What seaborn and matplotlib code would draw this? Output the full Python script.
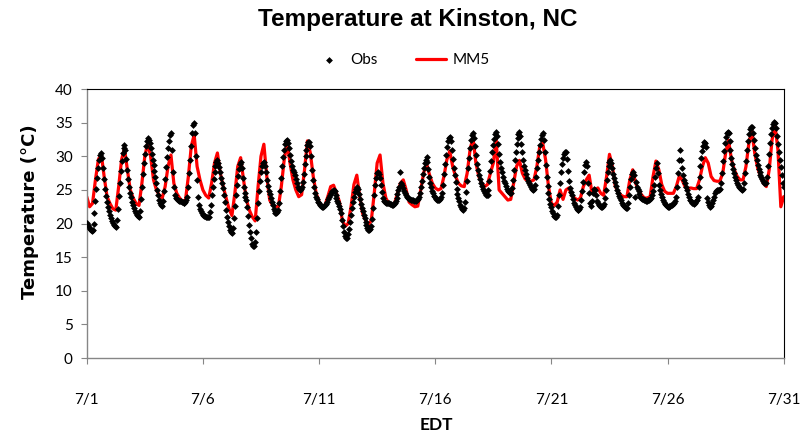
import numpy as np
import pandas as pd
import matplotlib
matplotlib.use('Agg')
import matplotlib.pyplot as plt
import seaborn as sns

# Hourly observed temperature (deg C), one row per day, 7/1 00 EDT onwards
obs_temp = [
    20.1, 19.8, 19.5, 19.2, 19.0, 18.9, 19.0, 19.9, 21.5, 23.4, 25.2, 26.8, 28.2, 29.4, 30.2, 30.5, 29.7, 28.3, 26.7, 25.2, 24.1, 23.2, 22.5, 21.8,
    21.3, 20.8, 20.4, 20.1, 19.8, 19.6, 19.5, 20.5, 22.2, 24.1, 26.1, 27.8, 29.3, 30.5, 31.3, 31.7, 31.0, 29.6, 28.0, 26.6, 25.5, 24.6, 23.9, 23.2,
    22.7, 22.3, 21.9, 21.5, 21.3, 21.1, 21.0, 21.9, 23.6, 25.4, 27.3, 29.0, 30.4, 31.5, 32.3, 32.7, 32.4, 32.0, 31.2, 30.3, 29.5, 28.7, 27.8, 27.0,
    26.0, 25.0, 24.2, 23.5, 23.0, 22.7, 22.6, 23.4, 24.9, 26.6, 28.4, 29.9, 31.2, 32.3, 33.1, 33.4, 31.0, 27.6, 25.5, 24.3, 23.8, 23.6, 23.5, 23.4,
    23.4, 23.3, 23.2, 23.2, 23.1, 23.1, 23.2, 23.5, 24.0, 25.5, 27.5, 29.5, 31.5, 33.5, 34.7, 35.0, 33.5, 30.0, 26.5, 24.0, 22.8, 22.2, 21.8, 21.5,
    21.3, 21.2, 21.1, 21.0, 21.0, 21.0, 21.0, 21.7, 22.8, 24.2, 25.5, 26.7, 27.7, 28.6, 29.1, 29.4, 29.0, 28.4, 27.6, 26.8, 26.0, 25.3, 24.3, 23.2,
    22.0, 21.0, 20.3, 19.6, 19.1, 18.7, 18.6, 19.4, 20.9, 22.6, 24.3, 25.8, 27.1, 28.1, 28.9, 29.2, 28.2, 26.8, 25.5, 24.6, 24.0, 23.5, 22.4, 21.2,
    19.8, 18.8, 17.8, 17.0, 16.6, 16.7, 17.3, 18.8, 20.8, 23.0, 24.9, 26.4, 27.6, 28.5, 29.0, 29.2, 28.6, 27.6, 26.5, 25.6, 24.9, 24.4, 23.8, 23.2,
    22.7, 22.2, 21.8, 21.5, 21.5, 21.7, 22.0, 23.0, 24.8, 26.8, 28.5, 29.9, 31.0, 31.8, 32.3, 32.4, 32.0, 31.2, 30.2, 29.3, 28.6, 28.0, 27.6, 27.2,
    26.6, 26.0, 25.5, 25.1, 25.0, 25.1, 25.4, 26.2, 27.4, 28.8, 30.0, 31.0, 31.7, 32.2, 32.1, 31.6, 30.0, 28.0, 26.5, 25.5, 24.6, 24.0, 23.6, 23.2,
    23.0, 22.8, 22.6, 22.5, 22.5, 22.6, 22.7, 22.9, 23.2, 23.6, 24.0, 24.3, 24.6, 24.8, 24.9, 25.0, 24.8, 24.3, 23.8, 23.4, 23.0, 22.6, 22.2, 21.5,
    20.6, 19.6, 18.8, 18.2, 17.8, 17.9, 18.4, 19.2, 20.2, 21.3, 22.3, 23.2, 24.0, 24.7, 25.2, 25.5, 25.1, 24.4, 23.6, 22.9, 22.3, 21.8, 21.3, 20.8,
    20.3, 19.8, 19.4, 19.1, 19.0, 19.2, 19.7, 20.7, 22.3, 24.2, 25.7, 26.8, 27.5, 27.7, 27.4, 26.8, 25.8, 24.7, 23.8, 23.4, 23.2, 23.1, 23.0, 23.0,
    23.0, 22.9, 22.9, 22.8, 22.8, 22.9, 23.0, 23.3, 23.8, 24.4, 25.0, 25.5, 27.7, 26.0, 25.8, 25.3, 24.9, 24.6, 24.3, 24.0, 23.8, 23.7, 23.6, 23.5,
    23.5, 23.5, 23.4, 23.4, 23.4, 23.5, 23.6, 23.9, 24.5, 25.4, 26.4, 27.4, 28.3, 29.0, 29.5, 29.9, 29.2, 28.1, 27.0, 26.1, 25.4, 24.9, 24.5, 24.1,
    23.9, 23.7, 23.5, 23.5, 23.5, 23.6, 23.9, 24.6, 25.8, 27.3, 28.8, 30.2, 31.4, 32.3, 32.8, 32.9, 32.3, 31.0, 29.6, 28.3, 27.2, 26.2, 25.2, 24.4,
    23.8, 23.3, 22.8, 22.4, 22.1, 22.0, 22.3, 23.2, 24.7, 26.4, 28.2, 29.8, 31.2, 32.4, 33.1, 33.4, 32.8, 31.6, 30.2, 28.9, 28.0, 27.2, 26.6, 26.0,
    25.6, 25.2, 24.8, 24.5, 24.3, 24.2, 24.3, 25.0, 26.3, 27.8, 29.3, 30.6, 31.7, 32.6, 33.3, 33.6, 33.0, 31.8, 30.4, 29.2, 28.3, 27.6, 27.0, 26.4,
    26.0, 25.6, 25.2, 24.9, 24.7, 24.5, 24.6, 25.3, 26.5, 27.9, 29.4, 30.7, 31.8, 32.7, 33.3, 33.6, 33.0, 31.9, 30.6, 29.5, 28.6, 27.9, 27.3, 26.8,
    26.4, 26.0, 25.7, 25.4, 25.2, 25.0, 25.1, 25.8, 26.9, 28.2, 29.5, 30.7, 31.7, 32.6, 33.2, 33.4, 32.4, 30.6, 28.7, 27.0, 25.6, 24.5, 23.6, 22.9,
    22.4, 21.9, 21.5, 21.2, 21.0, 21.0, 21.3, 22.6, 24.3, 26.1, 27.6, 28.8, 29.7, 30.3, 30.6, 30.7, 29.6, 27.8, 26.3, 25.3, 24.7, 24.2, 23.6, 23.1,
    22.7, 22.4, 22.1, 22.0, 22.0, 22.1, 22.5, 23.5, 24.8, 26.2, 27.6, 28.7, 29.2, 28.5, 26.0, 24.5, 23.0, 22.6, 23.4, 24.5, 25.2, 25.0, 24.2, 23.4,
    23.0, 22.8, 22.6, 22.5, 22.5, 22.6, 22.9, 23.8, 25.0, 26.5, 27.7, 28.6, 29.2, 29.4, 29.0, 28.2, 27.4, 26.8, 26.2, 25.6, 25.0, 24.5, 24.1, 23.8,
    23.5, 23.1, 22.8, 22.6, 22.4, 22.3, 22.3, 23.0, 24.2, 25.5, 26.6, 27.3, 27.7, 27.2, 24.0, 26.2, 25.5, 25.2, 24.8, 24.4, 24.0, 23.8, 23.7, 23.6,
    23.5, 23.5, 23.4, 23.4, 23.5, 23.5, 23.6, 23.8, 24.2, 24.8, 25.8, 27.0, 28.3, 29.0, 27.5, 25.8, 25.0, 24.4, 23.9, 23.5, 23.2, 22.9, 22.7, 22.6,
    22.5, 22.5, 22.6, 22.6, 22.7, 22.8, 22.9, 23.0, 23.3, 24.0, 25.5, 27.5, 29.5, 30.9, 29.5, 28.2, 27.2, 26.5, 26.0, 25.5, 25.0, 24.4, 23.9, 23.5,
    23.3, 23.1, 23.0, 22.9, 23.0, 23.3, 23.5, 24.0, 25.5, 27.0, 28.5, 29.8, 30.8, 31.6, 32.2, 32.0, 31.4, 23.8, 23.2, 22.8, 22.5, 22.6, 23.0, 23.5,
    24.0, 24.5, 24.8, 25.0, 25.0, 25.0, 25.2, 26.0, 27.5, 29.3, 30.8, 32.0, 32.9, 33.4, 33.6, 33.4, 32.3, 31.0, 29.8, 28.8, 28.1, 27.5, 27.0, 26.5,
    26.1, 25.8, 25.5, 25.3, 25.1, 25.0, 25.1, 26.0, 27.5, 29.3, 30.9, 32.3, 33.3, 34.0, 34.4, 34.3, 33.5, 32.4, 31.2, 30.2, 29.4, 28.7, 28.1, 27.6,
    27.2, 26.9, 26.6, 26.3, 26.1, 26.0, 26.1, 27.0, 28.6, 30.4, 32.0, 33.3, 34.2, 34.8, 35.1, 35.0, 34.2, 33.0, 31.8, 30.6, 29.5, 28.4, 27.2, 26.0,
    25.5,
]

# MM5 model temperature (deg C), 3-hourly (00, 03, ..., 21 EDT), one row per day
mm5_temp = [
    24.0, 22.5, 23.0, 26.5, 29.5, 30.4, 27.0, 24.0,
    23.0, 22.2, 22.0, 25.5, 29.5, 31.2, 28.0, 25.0,
    23.8, 23.0, 22.7, 26.0, 30.0, 32.0, 30.0, 26.5,
    25.0, 24.2, 23.8, 25.5, 28.5, 30.2, 26.0, 24.5,
    23.8, 23.3, 23.5, 27.0, 31.5, 33.2, 28.5, 26.5,
    25.0, 24.2, 23.8, 26.0, 29.0, 30.5, 27.5, 25.5,
    23.8, 22.2, 21.2, 24.5, 28.5, 29.8, 26.5, 23.5,
    22.0, 21.0, 20.4, 25.5, 30.0, 31.8, 27.0, 23.5,
    22.7, 22.5, 22.5, 25.5, 29.5, 32.0, 29.0, 26.5,
    25.0, 24.0, 24.3, 28.0, 32.3, 30.5, 27.0, 24.5,
    23.3, 22.5, 22.7, 24.0, 25.5, 25.7, 24.5, 23.3,
    20.5, 19.6, 20.0, 22.5, 25.8, 27.2, 24.0, 21.5,
    20.5, 19.8, 20.5, 24.5, 29.0, 30.2, 26.0, 23.8,
    23.0, 22.7, 23.0, 24.5, 26.0, 26.5, 25.0, 23.2,
    22.8, 22.5, 22.6, 25.0, 27.5, 29.0, 27.3, 26.0,
    25.3, 25.0, 25.2, 27.0, 29.5, 30.8, 28.5, 27.0,
    26.0, 25.6, 25.5, 27.5, 31.0, 32.8, 29.0, 27.0,
    26.0, 25.5, 25.8, 27.5, 29.0, 32.5, 25.0, 24.5,
    24.0, 23.5, 23.6, 26.0, 28.5, 29.4, 27.5, 26.6,
    26.4, 26.3, 26.5, 28.5, 31.5, 32.0, 29.5, 25.5,
    23.0, 22.7, 23.2, 25.0, 23.6, 25.0, 25.3, 24.2,
    23.8, 23.5, 23.8, 25.5, 26.5, 27.2, 24.5, 25.0,
    25.3, 24.5, 24.2, 27.0, 30.3, 28.5, 25.5, 24.8,
    24.2, 24.0, 24.0, 26.5, 28.0, 26.0, 25.0, 24.3,
    23.8, 23.8, 24.0, 27.0, 29.3, 28.0, 25.8, 24.8,
    24.5, 24.5, 24.5, 25.5, 27.0, 26.5, 25.5, 25.2,
    25.3, 25.2, 25.2, 26.5, 28.5, 29.8, 29.0, 27.0,
    26.4, 26.3, 26.3, 27.5, 30.5, 32.4, 29.5, 28.0,
    27.0, 26.5, 26.5, 28.5, 32.0, 33.9, 30.5, 28.3,
    27.0, 26.0, 25.5, 28.0, 32.5, 34.6, 31.0, 22.5,
    24.0,
]

tick_days = [0, 5, 10, 15, 20, 25, 30]
tick_labels = ['7/1', '7/6', '7/11', '7/16', '7/21', '7/26', '7/31']

obs_df = pd.DataFrame({'day': np.arange(len(obs_temp)) / 24.0, 'temp': obs_temp})
mm5_df = pd.DataFrame({'day': np.arange(len(mm5_temp)) * 3 / 24.0, 'temp': mm5_temp})

sns.set_style('white')
plt.rcParams['font.family'] = ['Lato', 'DejaVu Sans']
plt.rcParams['text.color'] = 'black'
plt.rcParams['xtick.color'] = 'black'
plt.rcParams['ytick.color'] = 'black'

fig = plt.figure(figsize=(8.03, 4.41), dpi=100)
ax = fig.add_axes([0.108, 0.188, 0.868, 0.610])

sns.lineplot(data=mm5_df, x='day', y='temp', color='#ff0000', linewidth=2.3,
             label='MM5', ax=ax, zorder=2)
sns.scatterplot(data=obs_df, x='day', y='temp', marker='D', s=12, color='black',
                linewidth=0, label='Obs', ax=ax, zorder=3)

ax.set_xlim(0, 30)
ax.set_ylim(0, 40)
ax.set_yticks(range(0, 41, 5))
ax.set_xticks(tick_days)
ax.set_xticklabels(tick_labels)
ax.set_xlabel('')
ax.set_ylabel('')
ax.tick_params(axis='y', direction='out', length=4, width=0.8, color='#868686',
               labelcolor='black', labelsize=11, pad=6, left=True)
ax.tick_params(axis='x', direction='out', length=4, width=0.8, color='#868686',
               labelcolor='black', labelsize=11, pad=21, bottom=True)

for side in ['left', 'bottom']:
    ax.spines[side].set_color('#868686')
    ax.spines[side].set_linewidth(1.0)
for side in ['top', 'right']:
    ax.spines[side].set_color('black')
    ax.spines[side].set_linewidth(0.8)

handles, labels = ax.get_legend_handles_labels()
ax.get_legend().remove()
order = [labels.index('Obs'), labels.index('MM5')]
fig.legend([handles[i] for i in order], [labels[i] for i in order],
           loc='center', bbox_to_anchor=(0.50, 0.864), ncol=2, frameon=False,
           fontsize=11, handlelength=2.0, handletextpad=0.4, columnspacing=2.5,
           labelcolor='black')

fig.text(0.52, 0.955, 'Temperature at Kinston, NC', ha='center', va='center',
         fontsize=17.5, fontweight='bold', color='black',
         family=['Liberation Sans', 'DejaVu Sans'])
fig.text(0.037, 0.52, 'Temperature (\u00b0C)', rotation=90, ha='center', va='center',
         fontsize=13, fontweight='bold', color='black', family=['DejaVu Sans'])
fig.text(0.544, 0.036, 'EDT', ha='center', va='center', fontsize=12.5,
         fontweight='bold', color='black')

fig.savefig('out.png', dpi=100)
